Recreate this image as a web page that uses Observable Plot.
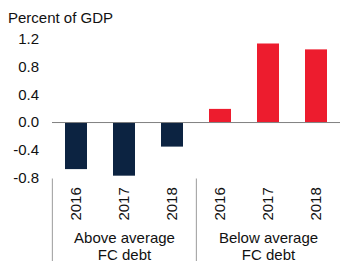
<!DOCTYPE html>
<html>
<head>
<meta charset="utf-8">
<script src="https://cdn.jsdelivr.net/npm/d3@7"></script>
<script src="https://cdn.jsdelivr.net/npm/@observablehq/plot@0.6"></script>
<style>
  html, body { margin: 0; padding: 0; background: #fff; }
  #wrap { position: relative; width: 340px; height: 261px; overflow: hidden; font-family: "Liberation Sans", Arial, sans-serif; }
  #unit { position: absolute; left: 8px; top: 9px; font-size: 15px; line-height: 17px; color: #111; }
</style>
</head>
<body>
<div id="wrap"><div id="unit">Percent of GDP</div></div>
<script>
const groups = ["Above average", "Below average"];
const groupSub = "FC debt";
const years = ["2016", "2017", "2018"];
const aboveValues = [-0.68, -0.775, -0.355];
const belowValues = [0.19, 1.135, 1.05];
const yTicks = [-0.8, -0.4, 0.0, 0.4, 0.8, 1.2];
const colors = ["#0c2341", "#ed1c2e"];

const data = [];
[aboveValues, belowValues].forEach((vals, gi) => {
  years.forEach((yr, i) => data.push({key: groups[gi] + "|" + yr, group: groups[gi], year: yr, value: vals[i]}));
});
const keys = data.map(d => d.key);
const groupMid = groups.map(g => ({key: g + "|" + years[1], label: g + "\n" + groupSub}));
const groupStart = groups.map(g => ({key: g + "|" + years[0]}));

const W = 340, H = 261, mL = 52, mR = -1, mT = 39, mB = 83.6;
const step = (W - mL - mR) / keys.length;

const chart = Plot.plot({
  width: W, height: H,
  marginLeft: mL, marginRight: mR, marginTop: mT, marginBottom: mB,
  style: {fontFamily: "Liberation Sans, Arial, sans-serif", fontSize: "15px", color: "#111", overflow: "visible"},
  x: {domain: keys, paddingInner: 0.54, paddingOuter: 0.27, axis: null},
  y: {domain: [-0.8, 1.2], axis: null},
  color: {domain: groups, range: colors},
  marks: [
    Plot.barY(data, {x: "key", y: "value", fill: "group"}),
    Plot.ruleY([0], {stroke: "#808080", strokeWidth: 1}),
    Plot.axisY({ticks: yTicks, tickFormat: d => d.toFixed(1), tickSize: 0, tickPadding: 13.5, label: null, fontSize: 15}),
    Plot.axisX({tickRotate: -90, tickSize: 0, tickPadding: 9.3, tickFormat: k => k.split("|")[1], label: null, fontSize: 15}),
    Plot.ruleX(groupStart, {x: "key", dx: -step / 2, stroke: "#aaa", strokeWidth: 1.2, insetTop: 139.5, insetBottom: -mB}),
    Plot.text(groupMid, {x: "key", frameAnchor: "bottom", text: "label", dy: 68, lineAnchor: "middle", lineHeight: 1.12, fontSize: 15, fill: "#111"})
  ]
});
document.getElementById("wrap").prepend(chart);
</script>
</body>
</html>
